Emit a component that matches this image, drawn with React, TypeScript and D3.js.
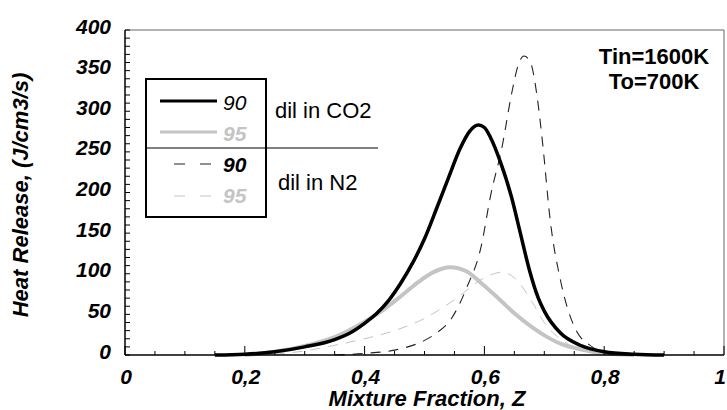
import React from "react";
import * as d3 from "d3";

const W = 727;
const H = 410;

// Mixture fraction Z / heat release (J/cm3/s)
const co2_90_z = [0.15, 0.2, 0.25, 0.3, 0.35, 0.38, 0.4, 0.42, 0.44, 0.46, 0.48, 0.5, 0.52, 0.54, 0.56, 0.575, 0.59, 0.6, 0.61, 0.627, 0.645, 0.66, 0.675, 0.69, 0.7, 0.727, 0.76, 0.8, 0.85, 0.9];
const co2_90_v = [0, 1, 4, 10, 19, 29, 39, 51, 67, 88, 113, 143, 180, 218, 255, 275, 283, 280, 268, 237, 195, 150, 105, 70, 54, 27, 12, 4, 1, 0];

const co2_95_z = [0.2, 0.25, 0.3, 0.35, 0.4, 0.43, 0.46, 0.49, 0.515, 0.543, 0.57, 0.594, 0.62, 0.649, 0.68, 0.705, 0.73, 0.76, 0.8, 0.85];
const co2_95_v = [0, 4, 11, 22, 41, 55, 72, 90, 102, 108, 103, 89, 72, 52, 34, 22, 13, 7, 2, 0];

const n2_90_z = [0.35, 0.4, 0.45, 0.5, 0.52, 0.545, 0.57, 0.595, 0.61, 0.63, 0.645, 0.657, 0.666, 0.677, 0.688, 0.697, 0.71, 0.727, 0.75, 0.78, 0.8, 0.82];
const n2_90_v = [0, 2, 6, 18, 27, 45, 82, 135, 195, 258, 320, 358, 368, 360, 318, 262, 165, 92, 35, 10, 3, 0];

const n2_95_z = [0.25, 0.3, 0.35, 0.4, 0.45, 0.5, 0.55, 0.6, 0.63, 0.65, 0.68, 0.7, 0.73, 0.76, 0.8, 0.85];
const n2_95_v = [1, 5, 12, 20, 30, 45, 68, 95, 102, 95, 65, 40, 18, 7, 2, 0];

const xTickLabels = ["0", "0,2", "0,4", "0,6", "0,8", "1"];
const xTickValues = [0, 0.2, 0.4, 0.6, 0.8, 1];
const yTickValues = [0, 50, 100, 150, 200, 250, 300, 350, 400];

const FONT = "'Liberation Sans', Arial, sans-serif";
const GREY = "#c4c4c4";

export default function App() {
  const x = d3.scaleLinear().domain([0, 1]).range([125, 724]);
  const y = d3.scaleLinear().domain([0, 400]).range([355, 30]);
  const line = d3
    .line<[number, number]>()
    .x((d) => x(d[0]))
    .y((d) => y(d[1]))
    .curve(d3.curveMonotoneX);
  const pts = (zs: number[], vs: number[]) => zs.map((z, i) => [z, vs[i]] as [number, number]);

  const minorX = d3.range(0, 1.0001, 0.05);
  const minorY = d3.range(0, 400.001, 10);

  return (
    <div style={{ position: "fixed", left: 0, top: 0 }}>
      <svg width={W} height={H} style={{ display: "block", background: "#fff" }} fontFamily={FONT}>
        {/* frame */}
        <line x1={x(0)} x2={x(1)} y1={y(400)} y2={y(400)} stroke="#666" strokeWidth={1} />
        <line x1={x(1)} x2={x(1)} y1={y(400)} y2={y(0)} stroke="#666" strokeWidth={1} />

        {/* curves */}
        <path d={line(pts(n2_95_z, n2_95_v)) || ""} fill="none" stroke={GREY} strokeWidth={1} strokeDasharray="10,8" />
        <path d={line(pts(co2_95_z, co2_95_v)) || ""} fill="none" stroke={GREY} strokeWidth={4} />
        <path d={line(pts(n2_90_z, n2_90_v)) || ""} fill="none" stroke="#222" strokeWidth={1.1} strokeDasharray="10,8" />
        <path d={line(pts(co2_90_z, co2_90_v)) || ""} fill="none" stroke="#000" strokeWidth={3.5} />

        {/* axes */}
        <line x1={x(0)} x2={x(0)} y1={y(400)} y2={y(0)} stroke="#000" strokeWidth={1.5} />
        <line x1={x(0)} x2={x(1)} y1={y(0)} y2={y(0)} stroke="#000" strokeWidth={1.5} />
        {minorY.map((v) => (
          <line key={"yt" + v} x1={x(0)} x2={x(0) + 5} y1={y(v)} y2={y(v)} stroke="#000" strokeWidth={1} />
        ))}
        {minorX.map((z) => {
          const major = Math.abs(z * 5 - Math.round(z * 5)) < 1e-6;
          return (
            <line key={"xt" + z} x1={x(z)} x2={x(z)} y1={y(0)} y2={y(0) - (major ? 9 : 4)} stroke="#000" strokeWidth={1} />
          );
        })}
        {yTickValues.map((v) => (
          <text key={"yl" + v} x={111} y={y(v) + 3.5} textAnchor="end" fontSize={21} fontWeight="bold" fontStyle="italic" fill="#000">
            {v}
          </text>
        ))}
        {xTickValues.map((z, i) => (
          <text
            key={"xl" + z}
            x={i === xTickValues.length - 1 ? W - 1 : x(z) + 1}
            y={383.5}
            textAnchor={i === xTickValues.length - 1 ? "end" : "middle"}
            fontSize={21}
            fontWeight="bold"
            fontStyle="italic"
            fill="#000"
          >
            {xTickLabels[i]}
          </text>
        ))}
        <text x={427} y={406} textAnchor="middle" fontSize={22} fontWeight="bold" fontStyle="italic" fill="#000">
          Mixture Fraction, Z
        </text>
        <text transform="translate(28,195) rotate(-90)" textAnchor="middle" fontSize={22} fontWeight="bold" fontStyle="italic" fill="#000">
          Heat Release, (J/cm3/s)
        </text>

        {/* annotation */}
        <text x={654} y={64} textAnchor="middle" fontSize={22} fontWeight="bold" fill="#000">Tin=1600K</text>
        <text x={654} y={89} textAnchor="middle" fontSize={22} fontWeight="bold" fill="#000">To=700K</text>

        {/* legend */}
        <rect x={146} y={79} width={120} height={138} fill="#fff" stroke="#000" strokeWidth={2} />
        <line x1={146} x2={378} y1={148} y2={148} stroke="#000" strokeWidth={1} />
        <line x1={160} x2={217} y1={101} y2={101} stroke="#000" strokeWidth={3} />
        <line x1={160} x2={217} y1={132} y2={132} stroke={GREY} strokeWidth={3} />
        <line x1={174} x2={213} y1={164} y2={164} stroke="#222" strokeWidth={1.1} strokeDasharray="11,15" />
        <line x1={174} x2={213} y1={196} y2={196} stroke={GREY} strokeWidth={1.1} strokeDasharray="11,15" />
        <text x={223} y={110} fontSize={21} fontStyle="italic" fill="#000">90</text>
        <text x={223} y={141} fontSize={21} fontStyle="italic" fontWeight="bold" fill={GREY}>95</text>
        <text x={223} y={172} fontSize={21} fontStyle="italic" fontWeight="bold" fill="#000">90</text>
        <text x={223} y={203} fontSize={21} fontStyle="italic" fontWeight="bold" fill={GREY}>95</text>
        <text x={275} y={118} fontSize={22} fill="#000">dil in CO2</text>
        <text x={278} y={190} fontSize={22} fill="#000">dil in N2</text>
      </svg>
    </div>
  );
}
